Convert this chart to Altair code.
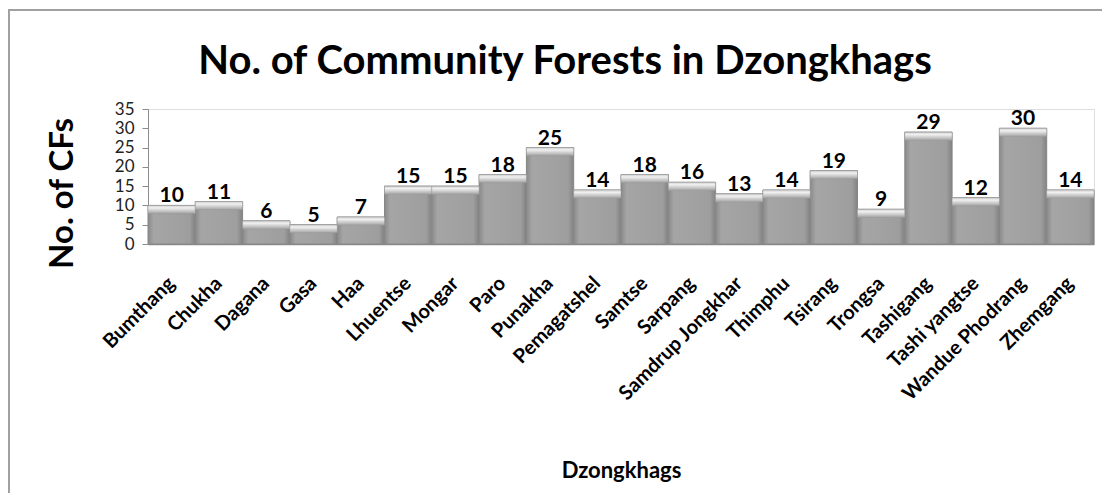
import altair as alt
import pandas as pd

dzongkhags = ["Bumthang", "Chukha", "Dagana", "Gasa", "Haa", "Lhuentse", "Mongar",
              "Paro", "Punakha", "Pemagatshel", "Samtse", "Sarpang", "Samdrup Jongkhar",
              "Thimphu", "Tsirang", "Trongsa", "Tashigang", "Tashi yangtse",
              "Wandue Phodrang", "Zhemgang"]
counts = [10, 11, 6, 5, 7, 15, 15, 18, 25, 14, 18, 16, 13, 14, 19, 9, 29, 12, 30, 14]
y_ticks = [0, 5, 10, 15, 20, 25, 30, 35]

df = pd.DataFrame({"Dzongkhag": dzongkhags, "CFs": counts})
FONT = "Lato"

x_scale = alt.Scale(paddingInner=0, paddingOuter=0)
y_scale = alt.Scale(domain=[0, 35], nice=False)

x_axis = alt.Axis(title="Dzongkhags", labelAngle=-45, labelAlign="right",
                  labelBaseline="middle", labelPadding=36, labelOffset=0, ticks=False,
                  domainColor="#8c8c8c", domainWidth=1.5, labelFont=FONT, labelFontSize=20,
                  labelFontWeight="bold", labelColor="black", labelLimit=0,
                  labelOverlap=False,
                  titleFont=FONT, titleFontSize=22, titleFontWeight="bold",
                  titleColor="black", titleY=226, titleBaseline="middle")
y_axis = alt.Axis(title="No. of CFs", values=y_ticks, grid=False, tickSize=6,
                  tickColor="#8c8c8c", domainColor="#8c8c8c", labelFont=FONT,
                  labelFontSize=17, labelColor="#222222", labelPadding=8,
                  labelOverlap=False, labelFlush=False,
                  titleFont=FONT, titleFontSize=33, titleFontWeight="bold",
                  titleColor="black", titleAngle=270, titleAlign="center",
                  titleBaseline="middle", titleX=-86, titleY=84)

x_enc = alt.X("Dzongkhag:N", sort=dzongkhags, scale=x_scale, axis=x_axis)
y_enc = alt.Y("CFs:Q", scale=y_scale, axis=y_axis)

bar_fill = alt.Gradient(
    gradient="linear", x1=0, x2=1, y1=0, y2=0,
    stops=[alt.GradientStop(offset=0, color="#8a8a8a"),
           alt.GradientStop(offset=0.12, color="#a5a5a5"),
           alt.GradientStop(offset=0.5, color="#a2a2a2"),
           alt.GradientStop(offset=0.88, color="#9e9e9e"),
           alt.GradientStop(offset=1, color="#828282")])
bevel_fill = alt.Gradient(
    gradient="linear", x1=0, x2=0, y1=0, y2=1,
    stops=[alt.GradientStop(offset=0, color="#d0d0d0"),
           alt.GradientStop(offset=0.3, color="#f0f0f0"),
           alt.GradientStop(offset=1, color="#a4a4a4")])

frame = alt.Chart(pd.DataFrame({"f": [0]})).mark_rect(
    fillOpacity=0, stroke="#a0a0a0", strokeWidth=2
).encode(x=alt.value(-139), x2=alt.value(1000), y=alt.value(-99), y2=alt.value(420))

bars = alt.Chart(df).mark_bar(fill=bar_fill, stroke="#868686", strokeWidth=1).encode(
    x=x_enc, y=y_enc)

bevel = alt.Chart(df).transform_calculate(bev="datum.CFs - 2.1").mark_bar(
    fill=bevel_fill, stroke="#9a9a9a", strokeWidth=0.5
).encode(x=x_enc, y=y_enc, y2="bev:Q")

labels = alt.Chart(df).mark_text(
    font=FONT, fontSize=21, fontWeight="bold", color="black", baseline="alphabetic", dy=-3
).encode(x=x_enc, y=y_enc, text="CFs:Q")

chart = alt.layer(frame, bars, bevel, labels).properties(
    width=946, height=135,
    title=alt.TitleParams("No. of Community Forests in Dzongkhags", font=FONT,
                          fontSize=40, fontWeight="bold", color="black",
                          anchor="middle", dx=-56, offset=-73),
    autosize=alt.AutoSizeParams(type="none"),
    padding={"left": 140, "top": 101, "right": 8, "bottom": 249},
).configure_view(stroke=None).configure(background="white")

chart.save("out.html", embed_options={"renderer": "svg", "actions": False})
